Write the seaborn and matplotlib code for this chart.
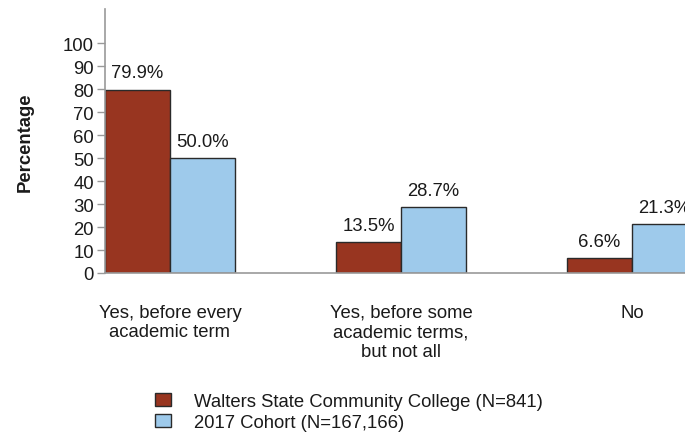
import matplotlib
matplotlib.use("Agg")
import matplotlib.pyplot as plt
import seaborn as sns
import pandas as pd
from matplotlib.patches import Patch

categories = ["Yes, before every\nacademic term",
              "Yes, before some\nacademic terms,\nbut not all",
              "No"]
series_names = ["Walters State Community College (N=841)",
                "2017 Cohort (N=167,166)"]
college_values = [79.9, 13.5, 6.6]
cohort_values = [50.0, 28.7, 21.3]
y_ticks = [0, 10, 20, 30, 40, 50, 60, 70, 80, 90, 100]

sns.set_theme(style="white")
plt.rcParams["font.family"] = ["Liberation Sans", "DejaVu Sans"]

df = pd.DataFrame({
    "category": categories * 2,
    "series": [series_names[0]] * 3 + [series_names[1]] * 3,
    "value": college_values + cohort_values,
})

palette = {series_names[0]: "#983520", series_names[1]: "#9ECAEB"}
FS = 13.3
TXT = "#1a1a1a"

fig = plt.figure(figsize=(6.85, 4.35), dpi=100)
W, H = 685, 435
ax_left, ax_bottom, ax_top = 105, 274, 10
ax_width = 640
ax = fig.add_axes([ax_left / W, (H - ax_bottom) / H, ax_width / W, (ax_bottom - ax_top) / H])

sns.barplot(data=df, x="category", y="value", hue="series", order=categories,
            hue_order=series_names, palette=palette, width=0.5625,
            edgecolor="#2a2a2a", linewidth=1.0, saturation=1.0, ax=ax, legend=False)

half = 0.28125
ax.set_xlim(-half, -half + ax_width / 231.0)
ax.set_ylim(0, 115)
ax.set_yticks(y_ticks)
ax.tick_params(axis="y", which="both", left=True, length=6, width=1, color="#999999",
               labelsize=FS, pad=2, labelcolor=TXT)
ax.tick_params(axis="x", bottom=False, labelsize=FS, pad=16, labelcolor=TXT)
ax.set_xlabel("")
ax.set_ylabel("Percentage", fontsize=FS, fontweight="bold", labelpad=21, color=TXT)

for side in ["top", "right"]:
    ax.spines[side].set_visible(False)
for side in ["left", "bottom"]:
    ax.spines[side].set_color("#999999")
    ax.spines[side].set_linewidth(1.2)

for container in ax.containers:
    ax.bar_label(container, labels=[f"{v:.1f}%" for v in container.datavalues],
                 padding=6, fontsize=FS, color=TXT)

for lbl in ax.get_xticklabels():
    lbl.set_linespacing(1.2)

handles = [Patch(facecolor=palette[s], edgecolor="#2a2a2a", linewidth=1.0) for s in series_names]
fig.legend(handles, series_names, loc="upper left", bbox_to_anchor=(155 / W, 1 - 394 / H),
           frameon=False, fontsize=FS, handlelength=0.85, handleheight=0.7,
           handletextpad=1.25, labelspacing=0.2, borderaxespad=0, borderpad=0,
           labelcolor=TXT)

fig.savefig("out.png", dpi=100)
